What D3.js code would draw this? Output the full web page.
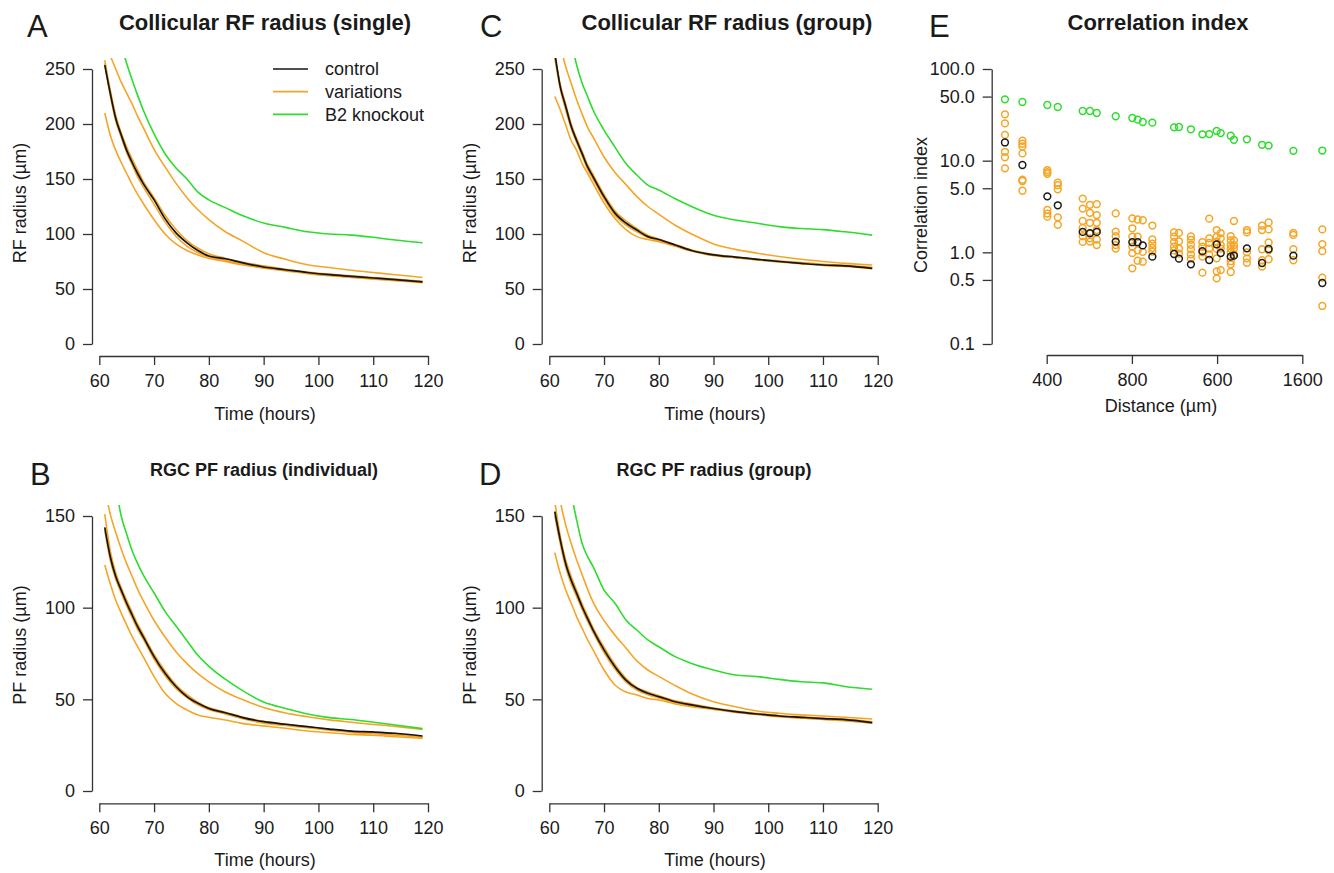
<!DOCTYPE html>
<html><head><meta charset="utf-8">
<script src="https://cdn.jsdelivr.net/npm/d3@7"></script>
<style>
body{margin:0;background:#fff;}
svg{display:block;font-family:"Liberation Sans",Arial,Helvetica,sans-serif;}
</style>
</head><body>
<svg id="chart" width="1334" height="873"></svg>
<script>
// ---------------- data ----------------
const times = [61,62,63,64,65,66,67,68,70,72,74,76,78,80,83,86,90,94,98,102,106,110,114,119];
const timeTicks = [60,70,80,90,100,110,120];
const rfTicks = [0,50,100,150,200,250];
const pfTicks = [0,50,100,150];
const seriesNames = ["control","variations","B2 knockout"];

// Panel A: Collicular RF radius (single)
const aControl = [253.6,228,205,190,176,165,155,146,131,114,101,92,85,80,77.5,74,70,67.5,65,63,61.5,60,58.5,56.4];
const aVariations = [
  [210,190,176,165,155,145,136,128,113,100,91,85,81,78,75,72,69,66.5,64,62,60.5,59,57.5,55.8],
  [258,231,208,192,179,168,158,148,133,117,104,94,87,82,78,74.5,71,68,65.5,63.5,62,60.5,59,57],
  [255,226,203,188,174,163,152,143,127,111,98,89,83,79,76,72.5,69.5,67,64.5,62.5,61,59.5,58,56.5],
  [null,262,250,238,228,218,207,197,177,161,146,133,122,113,102,94,83,77,72,69.5,67,65,63,60.5]
];
const aKnockout = [null,null,null,272,255,240,226,213,191,173,160,150,138,131,124,117,110,106,102,100,99,97,94.5,92];

// Panel C: Collicular RF radius (group)
const cControl = [265,234,216,198,185,173,161,152,134,119,110,103.6,97.6,95,90,85,81,79,77,75,73.3,71.8,71,68.8];
const cVariations = [
  [225,213,199,185,176,164,155,146,128,114,104,97.6,95,93,89,84.5,80.5,78.5,76.5,75,73.5,72,71,69.5],
  [262,236,218,200,187,175,163,154,136,121,112,105,99,95.5,90.5,85.5,81.5,79,77,75.5,74,72.5,71.5,69.5],
  [260,232,213,196,183,171,159,150,132,117,108,102,97,94,89,84.5,80.5,78.5,76.5,74.5,73,71.5,70.5,68.5],
  [null,272,252,237,222,209,197,188,170,156,145,134,125,118,108,100,91,86,82.5,79.5,77,75,73.3,71.8]
];
const cKnockout = [null,null,null,275,253.6,237,225,212.7,194.5,179,164,153.6,144.5,140,132,125,117,112.7,109.7,106.7,105,104,102,99];

// Panel B: RGC PF radius (individual)
const bControl = [143.8,127.8,117,109.6,102.4,96,89.6,84.2,73.3,64.2,57,51.5,47.8,45,42.7,40.2,37.8,36.4,35.1,33.8,32.7,32.2,31.5,30];
const bVariations = [
  [123.3,113,104,97,90.5,84.2,78.7,73.3,62.4,53.3,47.8,44.2,41.5,40.2,38.7,36.9,35.5,34.2,32.7,31.8,30.9,30.4,29.6,28.7],
  [151,131,119,111,104,97.5,91,85.5,74.5,65.5,58,52.5,48.5,45.5,43,40.5,38,36.5,35,33.7,32.5,31.8,31,29.5],
  [142,126,115.5,108,101,94.5,88.2,83,72,63,56,51,47,44.5,42,39.5,37,35.7,34.5,33.2,32,31.3,30.5,29.3],
  [165,151,141,132,124,117,110,104,93,84,76,69.5,64,59.5,54,50,45.5,42.5,40.5,38.8,37.5,36.3,35.2,33.5]
];
const bKnockout = [null,null,166,150,140,131,124,118,108,98,90,82,74,68,61,55,48.5,45,42,40,39,37.5,36,34];

// Panel D: RGC PF radius (group)
const dControl = [152.4,137,124,115,107.8,100.5,94,87.8,77,67.8,60.5,56,53.3,51.5,48.7,47,45,43.3,42,40.9,40.2,39.5,38.9,37.3];
const dVariations = [
  [130,118.7,109.6,102.4,95,88.7,82.4,77,66,57.8,54,52.4,50.5,49.6,47.5,46,44.5,43,41.7,40.6,39.8,39,38.3,37],
  [158,139,126,117,109.5,102,95.5,89,78.5,69,61.5,56.5,54,52,49.2,47.5,45.3,43.6,42.3,41.2,40.5,39.8,39.2,37.8],
  [150,135,122,113,106,99,92.5,86.5,75.5,66.5,59.5,55,52.5,50.8,48.2,46.5,44.6,43,41.7,40.5,39.8,39.1,38.5,37],
  [null,158,145,135,126,118,110,103,93,85,78,71,66,62.5,57.5,53,48.7,46,43.6,42.4,41.5,40.9,40.2,39.3]
];
const dKnockout = [null,null,null,162,147.8,135,127.8,122.4,109.6,102.4,93.3,87.8,82.4,78.7,73.3,69.6,66,63.3,62.4,60.9,59.6,59,57,55.5];

// Panel E: Correlation index
const eDistance = [204,286,403,452,569,603,635,724,802,827,851,896,998,1021,1077,1131,1163,1198,1217,1264,1279,1340,1411,1442,1558,1694];
const eKnockout = [46.7,43.7,40.5,38.5,34.8,34.8,33.1,30.5,29.2,28,26.4,26,23.1,23.3,22,19.4,19.5,21.1,20,18.7,16.9,17.1,14.9,14.6,12.8,12.9];
const eControl = [15.8,8.97,4.08,3.26,1.67,1.62,1.67,1.31,1.29,1.29,1.19,0.897,0.959,0.853,0.74,1.03,0.825,1.22,0.983,0.897,0.92,1.105,0.765,1.087,0.92,0.463];
const eVariations = [
  [32.0,25.5,19.1,12.5,10.9,8.24],
  [16.5,15.3,14.3,12.0,6.2,6.0,4.7],
  [7.9,7.5,7.2,2.9,2.65,2.45],
  [5.75,5.4,4.87,2.41,2.0],
  [3.85,3.0,2.2,1.85,1.5,1.3],
  [3.3,2.7,2.1,1.6,1.42,1.31],
  [3.35,2.55,2.1,1.75,1.38,1.2],
  [2.66,1.68,1.5,1.2,1.1],
  [2.35,1.83,1.48,1.15,0.98,0.67],
  [2.28,1.48,1.05,0.81],
  [2.24,1.01,0.79],
  [1.96,1.38,1.24,1.12,1.02],
  [1.65,1.48,1.3,1.15,1.05],
  [1.63,1.32,1.1,0.97],
  [1.49,1.37,1.21,1.08,0.95,0.85],
  [1.29,1.15,1.0,0.9,0.6],
  [2.33,1.42,1.27,1.1,0.95],
  [1.75,1.48,1.31,1.09,0.86,0.62,0.52],
  [1.62,1.42,1.2,1.1,0.64],
  [1.5,1.35,1.2,1.1,1.0,0.8,0.74,0.61],
  [2.2,1.35,1.2,1.1,0.95],
  [1.75,1.65,1.0,0.86,0.77],
  [1.96,1.75,1.08,0.82,0.70],
  [2.12,1.78,1.28,1.05,0.84],
  [1.63,1.55,1.08,0.82],
  [1.78,1.23,1.03,0.53,0.26]
];
const eXTicks = [400,800,1200,1600];
const eXTickLabels = ["400","800","600","1600"];
const eYTicks = [0.1,0.5,1,5,10,50,100];
const eYTickLabels = ["0.1","0.5","1.0","5.0","10.0","50.0","100.0"];

// ---------------- drawing ----------------
const COLORS = {control:"#141414", variations:"#f5a526", knockout:"#2edc2e"};
const AXIS = "#333", TEXT = "#1a1a1a";
const svg = d3.select("#chart");

function styleAxis(sel){
  sel.attr("font-size",18).attr("font-family",'"Liberation Sans",Arial,sans-serif');
  sel.selectAll("path.domain").attr("stroke",AXIS).attr("stroke-width",1.3);
  sel.selectAll(".tick line").attr("stroke",AXIS).attr("stroke-width",1.3);
  sel.selectAll(".tick text").attr("fill",TEXT);
}

function addText(x,y,txt,size,weight,anchor,rot){
  const t = svg.append("text").attr("fill",TEXT).attr("font-size",size)
    .attr("font-weight",weight||"normal").attr("text-anchor",anchor||"middle").text(txt);
  if(rot) t.attr("transform",`translate(${x},${y}) rotate(-90)`);
  else t.attr("x",x).attr("y",y);
  return t;
}

function linePanel(p){
  const x = d3.scaleLinear().domain([60,120]).range(p.xRange);
  const y = d3.scaleLinear().domain(p.yDomain).range(p.yRange);
  const top = p.yDomain[1]*1.04, bot = -p.yDomain[1]*0.04;
  const cid = "clip"+p.letter;
  svg.append("clipPath").attr("id",cid).append("rect")
    .attr("x",x(58.68)).attr("y",y(top))
    .attr("width",x(121.32)-x(58.68)).attr("height",y(bot)-y(top));
  const g = svg.append("g").attr("clip-path",`url(#${cid})`);
  const line = d3.line().defined(d=>d[1]!=null).x(d=>x(d[0])).y(d=>y(d[1])).curve(d3.curveMonotoneX);
  const pts = arr => times.map((t,i)=>[t,arr[i]]);
  p.variations.forEach(v=>{
    g.append("path").datum(pts(v)).attr("d",line).attr("fill","none")
      .attr("stroke",COLORS.variations).attr("stroke-width",1.6).attr("stroke-linejoin","round");
  });
  g.append("path").datum(pts(p.knockout)).attr("d",line).attr("fill","none")
    .attr("stroke",COLORS.knockout).attr("stroke-width",1.6).attr("stroke-linejoin","round");
  g.append("path").datum(pts(p.control)).attr("d",line).attr("fill","none")
    .attr("stroke",COLORS.control).attr("stroke-width",1.7).attr("stroke-linejoin","round");

  svg.append("g").attr("transform",`translate(${p.yAxisX},0)`)
    .call(d3.axisLeft(y).tickValues(p.yTicks).tickSize(9).tickSizeOuter(0).tickPadding(8))
    .call(styleAxis);
  svg.append("g").attr("transform",`translate(0,${p.xAxisY})`)
    .call(d3.axisBottom(x).tickValues(timeTicks).tickSize(9).tickSizeOuter(0).tickPadding(9))
    .call(styleAxis);

  addText(p.title[0],p.title[1],p.title[2],p.title[3],"bold");
  addText(p.letterPos[0],p.letterPos[1],p.letter,31,"normal","start");
  addText(p.ylab[0],p.ylab[1],p.ylab[2],18,"normal","middle",true);
  addText(p.xlab[0],p.xlab[1],"Time (hours)",18);
}

linePanel({letter:"A", xRange:[99.3,428], yDomain:[0,250], yRange:[344,69], yAxisX:92, xAxisY:356,
  yTicks:rfTicks, control:aControl, variations:aVariations, knockout:aKnockout,
  title:[265,30,"Collicular RF radius (single)",22], letterPos:[27,37],
  ylab:[26,203,"RF radius (µm)"], xlab:[265,420]});
linePanel({letter:"C", xRange:[549.3,877.7], yDomain:[0,250], yRange:[344,69], yAxisX:541.7, xAxisY:356,
  yTicks:rfTicks, control:cControl, variations:cVariations, knockout:cKnockout,
  title:[727,30,"Collicular RF radius (group)",22], letterPos:[480,37],
  ylab:[476,203,"RF radius (µm)"], xlab:[715,420]});
linePanel({letter:"B", xRange:[99.3,428], yDomain:[0,150], yRange:[791,516], yAxisX:92, xAxisY:803.3,
  yTicks:pfTicks, control:bControl, variations:bVariations, knockout:bKnockout,
  title:[264,476,"RGC PF radius (individual)",18], letterPos:[30,485],
  ylab:[26,645,"PF radius (µm)"], xlab:[265,866]});
linePanel({letter:"D", xRange:[549.3,877.7], yDomain:[0,150], yRange:[791,516], yAxisX:541.7, xAxisY:803.3,
  yTicks:pfTicks, control:dControl, variations:dVariations, knockout:dKnockout,
  title:[714,476,"RGC PF radius (group)",18], letterPos:[479,485],
  ylab:[476,645,"PF radius (µm)"], xlab:[715,866]});

// Legend in panel A
const legendColors = [COLORS.control, COLORS.variations, COLORS.knockout];
seriesNames.forEach((name,i)=>{
  const yy = 69 + i*22.7;
  svg.append("line").attr("x1",273).attr("x2",308).attr("y1",yy).attr("y2",yy)
    .attr("stroke",legendColors[i]).attr("stroke-width",1.7);
  svg.append("text").attr("x",325).attr("y",yy).attr("dy","0.35em").attr("font-size",18)
    .attr("fill",TEXT).text(name);
});

// Panel E
(function(){
  const x = d3.scaleLinear().domain([400,1600]).range([1046.7,1302.3]);
  const y = d3.scaleLog().domain([0.1,100]).range([344,69]);
  const g = svg.append("g");
  const circ = (cx,cy,col)=> g.append("circle").attr("cx",cx).attr("cy",cy).attr("r",3.4)
      .attr("fill","none").attr("stroke",col).attr("stroke-width",1.5);
  eVariations.forEach((vals,i)=>vals.forEach(v=>circ(x(eDistance[i]),y(v),COLORS.variations)));
  eKnockout.forEach((v,i)=>circ(x(eDistance[i]),y(v),COLORS.knockout));
  eControl.forEach((v,i)=>circ(x(eDistance[i]),y(v),"#1a1a1a"));

  svg.append("g").attr("transform","translate(991.7,0)")
    .call(d3.axisLeft(y).tickValues(eYTicks).tickFormat((d,i)=>eYTickLabels[i]).tickSize(9).tickSizeOuter(0).tickPadding(8))
    .call(styleAxis);
  svg.append("g").attr("transform","translate(0,355)")
    .call(d3.axisBottom(x).tickValues(eXTicks).tickFormat((d,i)=>eXTickLabels[i]).tickSize(9).tickSizeOuter(0).tickPadding(9))
    .call(styleAxis);
  addText(1158,30,"Correlation index",22,"bold");
  addText(929,37,"E",31,"normal","start");
  addText(927,205,"Correlation index",18,"normal","middle",true);
  addText(1161,412,"Distance (µm)",18);
})();
</script>
</body></html>
